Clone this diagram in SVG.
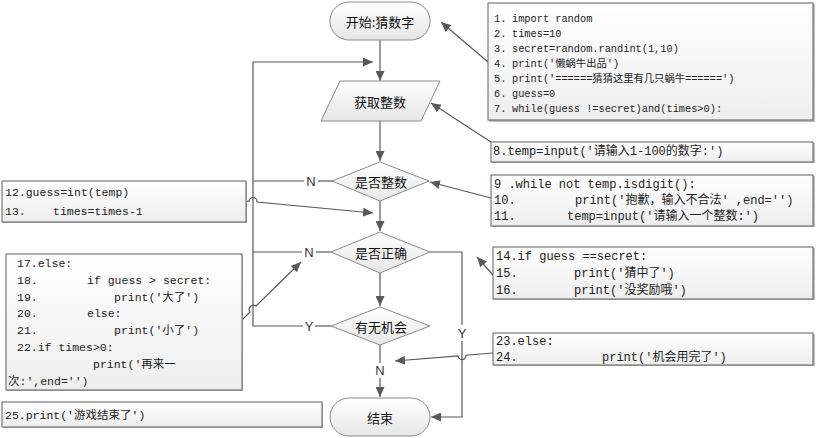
<svg xmlns="http://www.w3.org/2000/svg" width="816" height="438" viewBox="0 0 816 438">
<style>
.flow{stroke:#8a8a8a;stroke-width:1;fill:url(#gFlow)}
.box{stroke:#5f5f5f;stroke-width:1;fill:url(#gBox)}
.shadow{fill:#bdbdbd}
.conn{stroke:#595959;stroke-width:1.2;fill:none}
.lbl{font-family:"Noto Sans CJK SC","Liberation Sans",sans-serif;font-size:13px;fill:#111;text-anchor:middle;dominant-baseline:central}
.yn{font-family:"Liberation Sans","DejaVu Sans",sans-serif;font-size:13px;fill:#333;text-anchor:middle;dominant-baseline:central}
.code{font-family:"Liberation Mono","Noto Sans CJK SC",monospace;font-size:11.5px;fill:#222;dominant-baseline:central}
.small{font-size:10.3px}
.big{font-size:12px}
</style>
<defs>
<linearGradient id="gFlow" x1="0" y1="0" x2="0" y2="1">
<stop offset="0" stop-color="#ffffff"/><stop offset="1" stop-color="#e6e6e6"/>
</linearGradient>
<linearGradient id="gBox" x1="0" y1="0" x2="0" y2="1">
<stop offset="0" stop-color="#ffffff"/><stop offset="1" stop-color="#eeeeee"/>
</linearGradient>
<marker id="arr" markerUnits="userSpaceOnUse" markerWidth="11" markerHeight="9" refX="10" refY="4.5" orient="auto">
<path d="M0,0 L10,4.5 L0,9 z" fill="#595959"/>
</marker>
</defs>
<rect width="816" height="438" fill="#ffffff"/>

<g id="connectors">
<path class="conn" d="M380,40 V81" marker-end="url(#arr)"/>
<path class="conn" d="M380,121 V161" marker-end="url(#arr)"/>
<path class="conn" d="M380,201 V231" marker-end="url(#arr)"/>
<path class="conn" d="M380,273 V306" marker-end="url(#arr)"/>
<path class="conn" d="M380,345 V363"/>
<path class="conn" d="M380,378 V397" marker-end="url(#arr)"/>
<path class="conn" d="M303,326 H253 V62 H373" marker-end="url(#arr)"/>
<path class="conn" d="M315,326 H331"/>
<path class="conn" d="M253,181 H304"/>
<path class="conn" d="M318,181 H333"/>
<path class="conn" d="M253,252 H302"/>
<path class="conn" d="M316,252 H331"/>
<path class="conn" d="M430,252 H462 V325"/>
<path class="conn" d="M462,341 V417 H431" marker-end="url(#arr)"/>
<path class="conn" d="M488,62 L441,22" marker-end="url(#arr)"/>
<path class="conn" d="M491,142 L431,103" marker-end="url(#arr)"/>
<path class="conn" d="M491,198 L430,182" marker-end="url(#arr)"/>
<path class="conn" d="M246,201 L249,201.3 A4,4 0 0 1 257,202 L373,213" marker-end="url(#arr)"/>
<path class="conn" d="M493,275 L477,257" marker-end="url(#arr)"/>
<path class="conn" d="M242,320 L250,312 A4.3,4.3 0 0 1 256,306 L301,262" marker-end="url(#arr)"/>
<path class="conn" d="M493,353 L466,355.2 A4,4 0 0 1 458,355.9 L395,361" marker-end="url(#arr)"/>
<text class="yn" x="311" y="181">N</text>
<text class="yn" x="309" y="252">N</text>
<text class="yn" x="309" y="326">Y</text>
<text class="yn" x="462" y="333">Y</text>
<text class="yn" x="380" y="370">N</text>
</g>

<g id="start">
<rect class="flow" x="330" y="2" width="100" height="38" rx="19"/>
<text class="lbl" x="380" y="21">开始:猜数字</text>
</g>
<g id="input">
<polygon class="flow" points="340,81 440,81 421,121 321,121"/>
<text class="lbl" x="380" y="101">获取整数</text>
</g>
<g id="isInt">
<polygon class="flow" points="332,181 380,162 429,181 380,201"/>
<text class="lbl" x="381" y="181">是否整数</text>
</g>
<g id="isRight">
<polygon class="flow" points="331,252 380,232 430,252 380,273"/>
<text class="lbl" x="381" y="252">是否正确</text>
</g>
<g id="hasChance">
<polygon class="flow" points="331,326 380,307 430,326 380,345"/>
<text class="lbl" x="381" y="326">有无机会</text>
</g>
<g id="end">
<rect class="flow" x="330" y="398" width="100" height="38" rx="19"/>
<text class="lbl" x="380" y="417">结束</text>
</g>

<g id="code1">
<rect class="shadow" x="489" y="4" width="326" height="118"/>
<rect class="box" x="488" y="3" width="325" height="117"/>
<g class="code small">
<text x="494" y="19">1.</text><text x="512" y="19">import random</text>
<text x="494" y="34">2.</text><text x="512" y="34">times=10</text>
<text x="494" y="49">3.</text><text x="512" y="49">secret=random.randint(1,10)</text>
<text x="494" y="64">4.</text><text x="512" y="64">print('懒蜗牛出品')</text>
<text x="494" y="79">5.</text><text x="512" y="79">print('======猜猜这里有几只蜗牛======')</text>
<text x="494" y="94">6.</text><text x="512" y="94">guess=0</text>
<text x="494" y="109">7.</text><text x="512" y="109">while(guess !=secret)and(times&gt;0):</text>
</g>
</g>
<g id="code8">
<rect class="shadow" x="492" y="143" width="323" height="20"/>
<rect class="box" x="491" y="142" width="322" height="20"/>
<text class="code big" x="493" y="152">8.temp=input('请输入1-100的数字:')</text>
</g>
<g id="code9">
<rect class="shadow" x="492" y="176" width="323" height="51"/>
<rect class="box" x="491" y="175" width="322" height="51"/>
<g class="code big">
<text x="494" y="185">9 .while not temp.isdigit():</text>
<text x="494" y="201">10.</text><text x="575" y="201">print('抱歉，输入不合法' ,end='')</text>
<text x="494" y="217">11.</text><text x="567" y="217">temp=input('请输入一个整数:')</text>
</g>
</g>
<g id="code12">
<rect class="shadow" x="3" y="182" width="244" height="41"/>
<rect class="box" x="2" y="181" width="244" height="41"/>
<g class="code">
<text x="5" y="192">12.guess=int(temp)</text>
<text x="5" y="211">13.</text><text x="53" y="211">times=times-1</text>
</g>
</g>
<g id="code14">
<rect class="shadow" x="494" y="248" width="321" height="52"/>
<rect class="box" x="493" y="247" width="320" height="52"/>
<g class="code big">
<text x="496" y="257">14.if guess ==secret:</text>
<text x="496" y="274">15.</text><text x="574" y="274">print('猜中了')</text>
<text x="496" y="291">16.</text><text x="574" y="291">print('没奖励哦')</text>
</g>
</g>
<g id="code17">
<rect class="shadow" x="7" y="255" width="236" height="136"/>
<rect class="box" x="6" y="254" width="236" height="136"/>
<g class="code">
<text x="17" y="263">17.else:</text>
<text x="17" y="280">18.</text><text x="87" y="280">if guess &gt; secret:</text>
<text x="17" y="297">19.</text><text x="114" y="297">print('大了')</text>
<text x="17" y="313">20.</text><text x="87" y="313">else:</text>
<text x="17" y="330">21.</text><text x="114" y="330">print('小了')</text>
<text x="17" y="347">22.if times&gt;0:</text>
<text x="93" y="364">print('再来一</text>
<text x="8" y="381">次:',end='')</text>
</g>
</g>
<g id="code23">
<rect class="shadow" x="494" y="334" width="321" height="32"/>
<rect class="box" x="493" y="333" width="320" height="32"/>
<g class="code big">
<text x="496" y="342">23.else:</text>
<text x="496" y="358">24.</text><text x="602" y="358">print('机会用完了')</text>
</g>
</g>
<g id="code25">
<rect class="shadow" x="3" y="403" width="320" height="25"/>
<rect class="box" x="2" y="402" width="320" height="25"/>
<text class="code" x="5" y="415">25.print('游戏结束了')</text>
</g>
</svg>
